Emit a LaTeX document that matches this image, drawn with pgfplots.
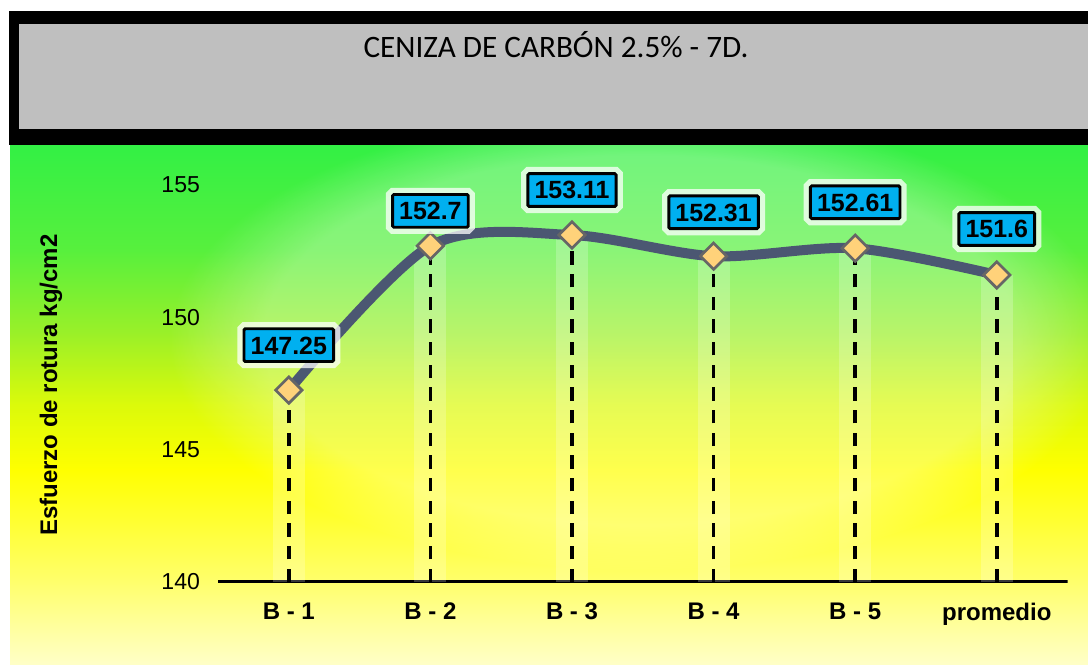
\documentclass[border=0pt]{standalone}
\usepackage{fontspec}
\setmainfont{Liberation Sans}
\newfontfamily\calibri{Carlito}
\usepackage{pgfplots}
\usepackage{pgfplotstable}
\pgfplotsset{compat=1.18}
\usetikzlibrary{fadings}

\definecolor{linecol}{HTML}{4B5772}
\definecolor{lblblue}{HTML}{00B0F0}
\definecolor{mkfill}{HTML}{FFD27A}
\definecolor{titlegray}{HTML}{BFBFBF}

% background: green on top, yellow in the middle, pale yellow at the bottom
\pgfdeclareverticalshading{bgshade}{100bp}{
  rgb(0bp)=(1,1,0.78);
  rgb(25bp)=(1,1,0.78);
  rgb(33bp)=(1,1,0.42);
  rgb(43.7bp)=(1,1,0);
  rgb(50bp)=(0.86,0.98,0.04);
  rgb(57bp)=(0.6,0.94,0.16);
  rgb(65bp)=(0.34,0.94,0.24);
  rgb(75bp)=(0.2,0.94,0.27);
  rgb(100bp)=(0.2,0.94,0.27)}

% x: 0 = B - 1 ... 5 = promedio; off = label offset above the point (px)
\pgfplotstableread{
x y lbl off
0 147.25 147.25 45
1 152.70 152.7 35
2 153.11 153.11 45
3 152.31 152.31 44
4 152.61 152.61 46
5 151.60 151.6 46
}\resdata

\begin{document}
\begin{tikzpicture}[x=0.75pt,y=-0.75pt]
  \useasboundingbox (0,0) rectangle (1088,664);
  \fill[white] (0,0) rectangle (1088,664);
  \shade[shading=bgshade] (10,145) rectangle (1088,664);
  \begin{scope}
    \clip (10,145) rectangle (1088,664);
    \fill[white, fill opacity=0.3, path fading=circle with fuzzy edge 20 percent]
      (640,340) ellipse [x radius=470, y radius=230];
  \end{scope}

  % title box
  \fill[black] (9,11) rectangle (1088,145);
  \fill[titlegray] (19,24) rectangle (1088,129);
  \node[font=\calibri\fontsize{23.4}{28}\selectfont, anchor=base]
    at (556,57) {CENIZA DE CARBÓN 2.5\% - 7D.};

  \node[rotate=90, font=\bfseries\fontsize{18}{21}\selectfont]
    at (51,385) {Esfuerzo de rotura kg/cm2};

  \begin{axis}[
      at={(163.5pt,-436.5pt)}, anchor=south west,
      scale only axis,
      x=106.2pt, y=19.85pt,
      xmin=-0.5, xmax=5.5,
      ymin=140, ymax=156.6,
      axis line style={draw=none},
      tick style={draw=none},
      major tick length=0pt,
      xtick={0,...,5},
      xticklabels={B - 1, B - 2, B - 3, B - 4, B - 5, promedio},
      ytick={140,145,150,155},
      /pgf/number format/assume math mode=true,
      yticklabel style={font=\fontsize{17.3}{20}\selectfont, xshift=-10pt},
      xticklabel style={font=\bfseries\fontsize{18}{21}\selectfont, yshift=-12pt},
    ]
    \draw[line width=3.6pt, black] (axis cs:-0.5,140) -- (axis cs:5.5,140);

    % light band behind each drop line
    \addplot[ycomb, draw=white, draw opacity=0.22, line width=24pt, forget plot]
      table[x=x, y=y] {\resdata};
    % dashed drop lines
    \addplot[ycomb, black, line width=2.6pt, dash pattern=on 10pt off 7pt, forget plot]
      table[x=x, y=y] {\resdata};

    % curve with markers and labels
    \addplot[
      smooth, linecol, line width=7.5pt,
      mark=square*, mark size=7pt,
      mark options={rotate=45, fill=mkfill, draw=gray!80!black, line width=2pt, solid},
      point meta=explicit symbolic,
      visualization depends on={\thisrow{off} \as \off},
      nodes near coords={\pgfplotspointmeta},
      every node near coord/.append style={
        anchor=center, yshift=\off*0.75pt,
        font=\bfseries\fontsize{18.7}{22}\selectfont, text=black,
        fill=lblblue, draw=black, line width=2.2pt, rounded corners=1pt,
        inner xsep=5pt, inner ysep=5.6pt, text height=13.4pt, text depth=0pt,
        preaction={draw=white, line width=10pt, draw opacity=0.75}},
    ] table[x=x, y=y, meta=lbl] {\resdata};
  \end{axis}
\end{tikzpicture}
\end{document}
